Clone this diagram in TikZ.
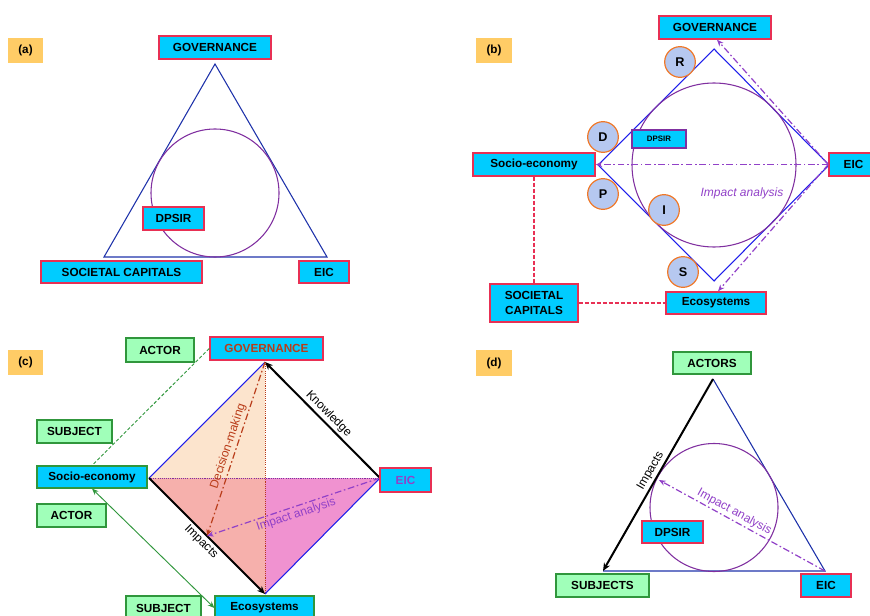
\documentclass[tikz,border=0pt]{standalone}
\usepackage{fontspec}
\setmainfont{Liberation Sans}
\usetikzlibrary{arrows.meta,calc}

\definecolor{boxcyan}{RGB}{0,204,255}
\definecolor{boxred}{RGB}{232,48,84}
\definecolor{boxgreenfill}{RGB}{160,255,185}
\definecolor{boxgreen}{RGB}{48,150,60}
\definecolor{tagorange}{RGB}{255,204,102}
\definecolor{navyline}{RGB}{30,50,170}
\definecolor{blueline}{RGB}{30,30,235}
\definecolor{ringpurple}{RGB}{128,48,160}
\definecolor{flowpurple}{RGB}{145,65,200}
\definecolor{brownred}{RGB}{185,60,25}
\definecolor{letterfill}{RGB}{182,200,240}
\definecolor{letterring}{RGB}{240,120,40}
\definecolor{peach}{RGB}{252,228,205}
\definecolor{salmon}{RGB}{246,176,172}
\definecolor{orchid}{RGB}{240,146,208}

\tikzset{
  sz/.style 2 args={minimum width=#1*0.75pt, minimum height=#2*0.75pt},
  boxbase/.style={inner sep=0pt, line width=1.1pt, font=\fontsize{8.8}{11.2}\selectfont\bfseries},
  capbox/.style={boxbase, fill=boxcyan, draw=boxred},
  ecobox/.style={boxbase, fill=boxcyan, draw=boxgreen, line width=0.9pt},
  rolebox/.style={boxbase, fill=boxgreenfill, draw=boxgreen, line width=0.9pt},
  paneltag/.style={boxbase, fill=tagorange, draw=none},
  letter/.style={circle, fill=letterfill, draw=letterring, line width=0.9pt,
    minimum size=23pt, inner sep=0pt, font=\fontsize{9.5}{10}\selectfont\bfseries},
  edgeA/.style={draw=navyline, line width=0.8pt},
  edgeB/.style={draw=blueline, line width=0.8pt},
  incircle/.style={draw=ringpurple, line width=0.8pt},
  headarrow/.style={-{Stealth[length=5pt,width=4pt]}},
  flowarrow/.style={headarrow, draw=flowpurple, line width=0.9pt,
    dash pattern=on 5pt off 2pt on 1.2pt off 2pt},
  thickarrow/.style={-{Stealth[length=6pt,width=5pt]}, draw=black, line width=1.5pt},
  flowlabel/.style={font=\fontsize{9}{10}\selectfont, inner sep=1.5pt},
  capdash/.style={draw=boxred, line width=0.8pt, dash pattern=on 3pt off 1.5pt},
  rolelink/.style={draw=boxgreen, line width=0.7pt},
}

\begin{document}
\begin{tikzpicture}[x=0.75pt,y=-0.75pt]
\useasboundingbox (0,0) rectangle (870,616);

% ---------------- panel (a) ----------------
\coordinate (aT) at (215,64);
\coordinate (aL) at (104,257);
\coordinate (aR) at (327,257);
\draw[edgeA] (aT) -- (aL) -- (aR) -- cycle;
\draw[incircle] (215,193) circle[radius=48pt];
\node[paneltag, sz={35}{25}] (aTag) at (25.5,50.5) {(a)};
\node[capbox, sz={112}{23}] (aGov) at (215,47.5) {GOVERNANCE};
\node[capbox, sz={61}{23}] (aDps) at (173.5,218.5) {DPSIR};
\node[capbox, sz={161}{22}] (aSoc) at (121.5,272) {SOCIETAL CAPITALS};
\node[capbox, sz={50}{22}] (aEic) at (324,272) {EIC};

% ---------------- panel (b) ----------------
\coordinate (bT) at (714,49);
\coordinate (bL) at (598,165);
\coordinate (bR) at (829,165);
\coordinate (bB) at (714,281);
\draw[edgeB] (bT) -- (bR) -- (bB) -- (bL) -- cycle;
\draw[incircle] (714,165) circle[radius=61.5pt];
\node[paneltag, sz={36}{25}] (bTag) at (494,50.5) {(b)};
\node[capbox, sz={112}{23}] (bGov) at (715,27.5) {GOVERNANCE};
\node[capbox, sz={122}{23}] (bSoc) at (534,164.5) {Socio-economy};
\node[capbox, sz={49}{23}] (bEic) at (853.5,164.5) {EIC};
\node[capbox, sz={100}{22}] (bEco) at (716,303) {Ecosystems};
\node[capbox, sz={88}{38}, align=center] (bCap) at (534,303) {SOCIETAL\\CAPITALS};
\node[boxbase, fill=boxcyan, draw=ringpurple, line width=0.9pt, sz={54}{18},
  font=\fontsize{5.9}{7}\selectfont\bfseries] (bDps) at (659,139) {DPSIR};
\draw[flowarrow] (bEic.west) -- (bSoc.east);
\draw[flowarrow] (bEic.west) -- ([xshift=1.5pt]bGov.south);
\draw[flowarrow] (bEic.west) -- ([xshift=1.5pt]bEco.north);
\node[flowlabel, text=flowpurple, font=\fontsize{9}{10}\selectfont\itshape] (bImp) at (742,193) {Impact analysis};
\draw[capdash] (bSoc.south) -- (bCap.north);
\draw[capdash] (bCap.east) -- (bEco.west);
\node[letter] (bR1) at (680,62) {R};
\node[letter] (bD1) at (603,137) {D};
\node[letter] (bP1) at (603,194) {P};
\node[letter] (bI1) at (664,210) {I};
\node[letter] (bS1) at (683,272) {S};

% ---------------- panel (c) ----------------
\coordinate (cT) at (265,362);
\coordinate (cL) at (149,478);
\coordinate (cR) at (380,478);
\coordinate (cB) at (265,594);
\coordinate (cC) at (265,478);
\coordinate (cD) at ($(cL)!0.5!(cB)$);
\fill[peach] (cT) -- (cL) -- (cC) -- cycle;
\fill[salmon] (cL) -- (cC) -- (cB) -- cycle;
\fill[orchid] (cC) -- (cR) -- (cB) -- cycle;
\draw[draw=ringpurple, line width=0.7pt, dash pattern=on 0.8pt off 0.8pt] (cL) -- (cR);
\draw[draw=brownred, line width=0.6pt, dash pattern=on 0.8pt off 0.8pt] (cT) -- (cB);
\draw[edgeB] (cT) -- (cL);
\draw[edgeB] (cR) -- (cB);
\draw[thickarrow] (cL) -- node[sloped, below, flowlabel] (cImpLbl) {Impacts} (cB);
\draw[thickarrow] (cR) -- node[sloped, above, flowlabel] (cKnowLbl) {Knowledge} (cT);
\draw[flowarrow, draw=brownred] (cT) -- node[sloped, above, flowlabel, text=brownred] (cDecLbl) {Decision-making} (cD);
\draw[flowarrow] (cR) -- node[sloped, below, flowlabel, text=flowpurple] (cAnaLbl) {Impact analysis} (cD);
\node[paneltag, sz={35}{25}] (cTag) at (25.5,362.5) {(c)};
\node[capbox, sz={113}{23}, text=brownred] (cGov) at (266.5,348.5) {GOVERNANCE};
\node[rolebox, sz={68}{24}] (cAct1) at (160,350) {ACTOR};
\node[rolebox, sz={75}{23}] (cSub1) at (74.5,431.5) {SUBJECT};
\node[ecobox, sz={110}{22}] (cSoc) at (92,477) {Socio-economy};
\node[rolebox, sz={69}{23}] (cAct2) at (71.5,515.5) {ACTOR};
\node[rolebox, sz={75}{24}] (cSub2) at (163.5,608) {SUBJECT};
\node[ecobox, sz={99}{24}] (cEco) at (264.5,608) {Ecosystems};
\node[capbox, sz={51}{24}, text=flowpurple] (cEic) at (405.5,480) {EIC};
\draw[rolelink, dash pattern=on 2.5pt off 1.5pt] (cGov.west) -- (cSoc.north);
\draw[rolelink, {Stealth[length=5pt,width=4pt]}-{Stealth[length=5pt,width=4pt]}] (cSoc.south) -- (cEco.west);

% ---------------- panel (d) ----------------
\coordinate (dT) at (713,379);
\coordinate (dL) at (603,571);
\coordinate (dR) at (825,571);
\coordinate (dA) at (659,480);
\draw[edgeA] (dT) -- (dR) -- (dL);
\draw[incircle] (714,507.5) circle[radius=48pt];
\draw[thickarrow] (dT) -- node[sloped, above, flowlabel] (dImpLbl) {Impacts} (dL);
\draw[flowarrow] (dR) -- node[sloped, above, pos=0.57, flowlabel, text=flowpurple] (dAnaLbl) {Impact analysis} (dA);
\node[paneltag, sz={36}{26}] (dTag) at (494,363) {(d)};
\node[rolebox, sz={78}{22}] (dAct) at (712,363) {ACTORS};
\node[capbox, sz={61}{22}] (dDps) at (672.5,532) {DPSIR};
\node[rolebox, sz={93}{23}] (dSub) at (602.5,585.5) {SUBJECTS};
\node[capbox, sz={50}{23}] (dEic) at (826,585.5) {EIC};
\end{tikzpicture}
\end{document}
